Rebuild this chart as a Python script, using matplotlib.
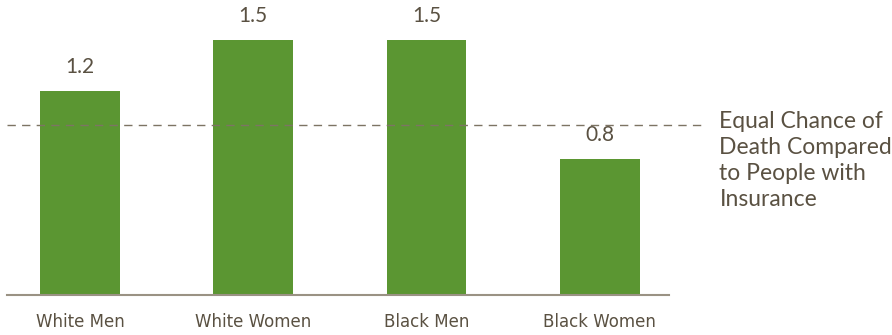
import numpy as np
import matplotlib
matplotlib.use("Agg")
from matplotlib import pyplot as plt

# risk of death relative to insured people
groups = ["White Men", "White Women", "Black Men", "Black Women"]
ratios = [1.2, 1.5, 1.5, 0.8]
parity = 1.0
note = "Equal Chance of\nDeath Compared\nto People with\nInsurance"

green = "#5b9632"
ink = "#5a5142"
rule = "#7d7464"

fig = plt.figure(figsize=(8.92, 3.35), dpi=100)
ax = fig.add_axes([7 / 892, 40 / 335, 662 / 892, 295 / 335])

x = np.arange(len(groups))
ax.bar(x, ratios, width=0.46, color=green, zorder=2)

# value labels over each bar
for xi, r in zip(x, ratios):
    ax.annotate(f"{r:.1f}", (xi, r), xytext=(0, 10), textcoords="offset points",
                ha="center", va="bottom", fontsize=15, color=ink,
                family=["Lato", "DejaVu Sans"])

# dashed line for a ratio of one, running out past the axis to the note
ax.plot([-0.42, 3.607], [parity, parity], color=rule, lw=1.0,
        dashes=(6, 4.5), clip_on=False, zorder=3)
ax.annotate(note, (3.69, parity), xytext=(0, 10), textcoords="offset points",
            ha="left", va="top", fontsize=16.5, color=ink,
            family=["Lato", "DejaVu Sans"], linespacing=1.3,
            annotation_clip=False)

ax.set_xlim(-0.421, 3.399)
ax.set_ylim(0, 295 / 170)
ax.set_xticks(x)
ax.set_xticklabels(groups, fontsize=12, color=ink,
                   family=["Liberation Sans Narrow", "DejaVu Sans"])
ax.tick_params(axis="x", length=0, pad=13)
ax.set_yticks([])
for side in ["top", "right", "left"]:
    ax.spines[side].set_visible(False)
ax.spines["bottom"].set_color("#9a9284")
ax.spines["bottom"].set_linewidth(1.5)

fig.savefig("out.png", dpi=100)
